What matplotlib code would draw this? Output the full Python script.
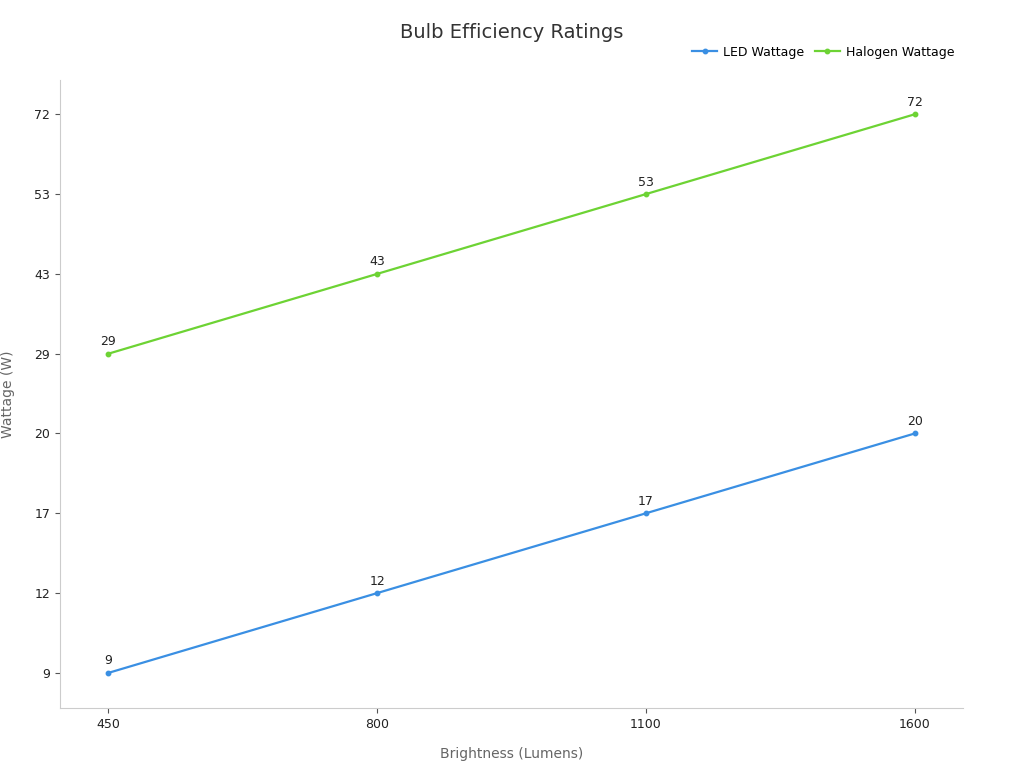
import matplotlib.pyplot as plt

lumens = ["450", "800", "1100", "1600"]
led_watts = [9, 12, 17, 20]
halogen_watts = [29, 43, 53, 72]
y_ticks = sorted(set(led_watts + halogen_watts))

COLOR_LED = "#3a8fe3"
COLOR_HAL = "#6dd334"

plt.rcParams["font.family"] = "DejaVu Sans"

fig = plt.figure(figsize=(10.24, 7.68), dpi=100)
ax = fig.add_axes([60 / 1024, 60 / 768, 903 / 1024, 628 / 768])

x = list(range(len(lumens)))
pos = {v: i for i, v in enumerate(y_ticks)}

for vals, color, name in [(led_watts, COLOR_LED, "LED Wattage"),
                          (halogen_watts, COLOR_HAL, "Halogen Wattage")]:
    ys = [pos[v] for v in vals]
    ax.plot(x, ys, color=color, linewidth=1.6, marker="o", markersize=3.2, label=name)
    for xi, yi, v in zip(x, ys, vals):
        ax.annotate(str(v), (xi, yi), xytext=(0, 4), textcoords="offset points",
                    ha="center", va="bottom", fontsize=9, color="#222222")

ax.set_xlim(-0.18, 3.18)
ax.set_ylim(-0.44, 7.43)
ax.set_xticks(x)
ax.set_xticklabels(lumens)
ax.set_yticks(range(len(y_ticks)))
ax.set_yticklabels([str(v) for v in y_ticks])
ax.tick_params(labelsize=9, colors="#222222")
for s in ["top", "right"]:
    ax.spines[s].set_visible(False)
for s in ["left", "bottom"]:
    ax.spines[s].set_color("#cccccc")
ax.tick_params(color="#555555")

ax.set_xlabel("Brightness (Lumens)", fontsize=10, color="#666666", labelpad=12)
ax.set_ylabel("Wattage (W)", fontsize=10, color="#666666", labelpad=14)
fig.suptitle("Bulb Efficiency Ratings", fontsize=14, color="#333333", x=0.5, y=0.97)

ax.legend(loc="lower right", bbox_to_anchor=(1.0, 1.02), ncol=2, frameon=False,
          fontsize=9, handlelength=2, columnspacing=0.8, handletextpad=0.5,
          borderaxespad=0.3)

fig.savefig("out.png")
